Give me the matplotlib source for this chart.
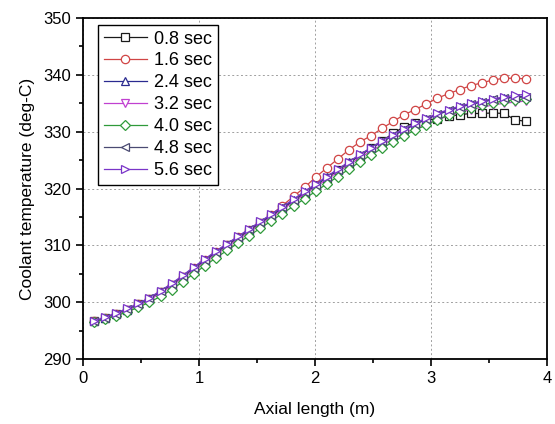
import matplotlib
matplotlib.use("Agg")
import matplotlib.pyplot as plt
from matplotlib.ticker import MultipleLocator

plt.rcParams['font.family'] = ['Liberation Sans', 'DejaVu Sans']

axial = [0.096, 0.191, 0.287, 0.382, 0.478, 0.573, 0.669, 0.764, 0.860, 0.955,
         1.051, 1.146, 1.242, 1.337, 1.433, 1.528, 1.624, 1.719, 1.815, 1.910,
         2.006, 2.101, 2.197, 2.292, 2.388, 2.483, 2.579, 2.674, 2.770, 2.865,
         2.961, 3.056, 3.152, 3.247, 3.343, 3.438, 3.534, 3.629, 3.725, 3.820]

t_08 = [296.6, 297.2, 297.9, 298.7, 299.6, 300.6, 301.8, 303.0, 304.4, 305.9,
        307.3, 308.7, 310.0, 311.3, 312.6, 313.9, 315.2, 316.5, 317.8, 319.2,
        320.6, 321.9, 323.2, 324.5, 325.8, 327.1, 328.4, 329.7, 330.9, 331.6,
        332.0, 332.3, 332.7, 333.0, 333.2, 333.2, 333.3, 333.2, 332.1, 331.8]
t_16 = [296.6, 297.2, 297.9, 298.7, 299.6, 300.6, 301.8, 303.1, 304.5, 306.0,
        307.4, 308.8, 310.1, 311.4, 312.7, 314.0, 315.4, 317.0, 318.6, 320.2,
        322.0, 323.6, 325.2, 326.8, 328.2, 329.3, 330.6, 331.8, 333.0, 333.9,
        334.9, 335.9, 336.7, 337.4, 338.1, 338.6, 339.1, 339.4, 339.4, 339.3]
t_24 = [296.6, 297.2, 297.9, 298.7, 299.6, 300.6, 301.8, 303.1, 304.5, 306.0,
        307.4, 308.8, 310.1, 311.4, 312.7, 314.0, 315.3, 316.6, 317.9, 319.3,
        320.6, 322.0, 323.3, 324.6, 325.9, 327.1, 328.2, 329.3, 330.3, 331.3,
        332.2, 333.0, 333.7, 334.3, 334.8, 335.2, 335.6, 335.9, 336.1, 336.3]
t_32 = [296.5, 297.1, 297.8, 298.6, 299.4, 300.4, 301.6, 302.9, 304.3, 305.7,
        307.1, 308.5, 309.8, 311.1, 312.4, 313.7, 315.0, 316.3, 317.6, 319.0,
        320.3, 321.6, 322.9, 324.2, 325.4, 326.6, 327.7, 328.7, 329.7, 330.6,
        331.4, 332.1, 332.8, 333.4, 333.9, 334.3, 334.7, 335.0, 335.2, 335.4]
t_40 = [296.5, 297.0, 297.6, 298.3, 299.1, 300.0, 301.0, 302.2, 303.6, 305.0,
        306.4, 307.8, 309.1, 310.4, 311.7, 313.0, 314.3, 315.6, 316.9, 318.2,
        319.5, 320.8, 322.1, 323.4, 324.7, 325.9, 327.1, 328.2, 329.3, 330.3,
        331.2, 332.1, 332.9, 333.6, 334.2, 334.7, 335.1, 335.4, 335.6, 335.8]
t_48 = [296.6, 297.3, 298.0, 298.8, 299.7, 300.7, 301.9, 303.2, 304.6, 306.1,
        307.5, 308.9, 310.2, 311.5, 312.8, 314.1, 315.4, 316.7, 318.0, 319.4,
        320.7, 322.0, 323.3, 324.6, 325.9, 327.1, 328.3, 329.4, 330.4, 331.4,
        332.3, 333.1, 333.8, 334.4, 334.9, 335.3, 335.7, 335.9, 336.0, 336.1]
t_56 = [296.7, 297.4, 298.1, 298.9, 299.8, 300.8, 302.0, 303.3, 304.7, 306.2,
        307.6, 309.0, 310.3, 311.6, 312.9, 314.2, 315.5, 316.8, 318.1, 319.5,
        320.8, 322.1, 323.4, 324.7, 326.0, 327.2, 328.4, 329.5, 330.5, 331.5,
        332.4, 333.2, 333.9, 334.5, 335.0, 335.4, 335.8, 336.1, 336.4, 336.6]

labels = ['0.8 sec', '1.6 sec', '2.4 sec', '3.2 sec', '4.0 sec', '4.8 sec', '5.6 sec']
series = [t_08, t_16, t_24, t_32, t_40, t_48, t_56]
colors = ['#1a1a1a', '#d04545', '#2a2a90', '#c040d0', '#2f9a3a', '#4a4a72', '#7a35c8']
markers = ['s', 'o', '^', 'v', 'D', '<', '>']
msizes = [5.5, 6.0, 6.0, 6.0, 5.0, 6.0, 6.0]

fig = plt.figure(figsize=(5.55, 4.24), dpi=100)
ax = fig.add_axes([0.1495, 0.1533, 0.8361, 0.8042])

for y, lab, c, m, ms in zip(series, labels, colors, markers, msizes):
    ax.plot(axial, y, color=c, marker=m, markersize=ms, markerfacecolor='white',
            markeredgecolor=c, markeredgewidth=0.9, linewidth=0.9, label=lab)

ax.set_xlim(0, 4)
ax.set_ylim(290, 350)
ax.xaxis.set_major_locator(MultipleLocator(1))
ax.xaxis.set_minor_locator(MultipleLocator(0.5))
ax.yaxis.set_major_locator(MultipleLocator(10))
ax.yaxis.set_minor_locator(MultipleLocator(5))
ax.tick_params(which='major', direction='out', length=5, width=1.2, labelsize=12,
               top=False, right=False)
ax.tick_params(which='minor', direction='out', length=3, width=1.2,
               top=False, right=False)
for s in ax.spines.values():
    s.set_linewidth(1.3)
ax.grid(True, which='major', color='#a0a0a0', linestyle=(0, (2, 2.5)), linewidth=0.7)
ax.set_axisbelow(True)

ax.set_xlabel('Axial length (m)', fontsize=12.5, labelpad=12)
ax.set_ylabel('Coolant temperature (deg-C)', fontsize=12.5, labelpad=6)

leg = ax.legend(loc='upper left', bbox_to_anchor=(0.032, 0.98), fontsize=13,
                frameon=True, fancybox=False, handlelength=2.4, handletextpad=0.4,
                labelspacing=0.27, borderpad=0.32, borderaxespad=0.0)
leg.get_frame().set_edgecolor('black')
leg.get_frame().set_linewidth(1.0)
leg.get_frame().set_alpha(1)

fig.savefig('out.png', dpi=100)
